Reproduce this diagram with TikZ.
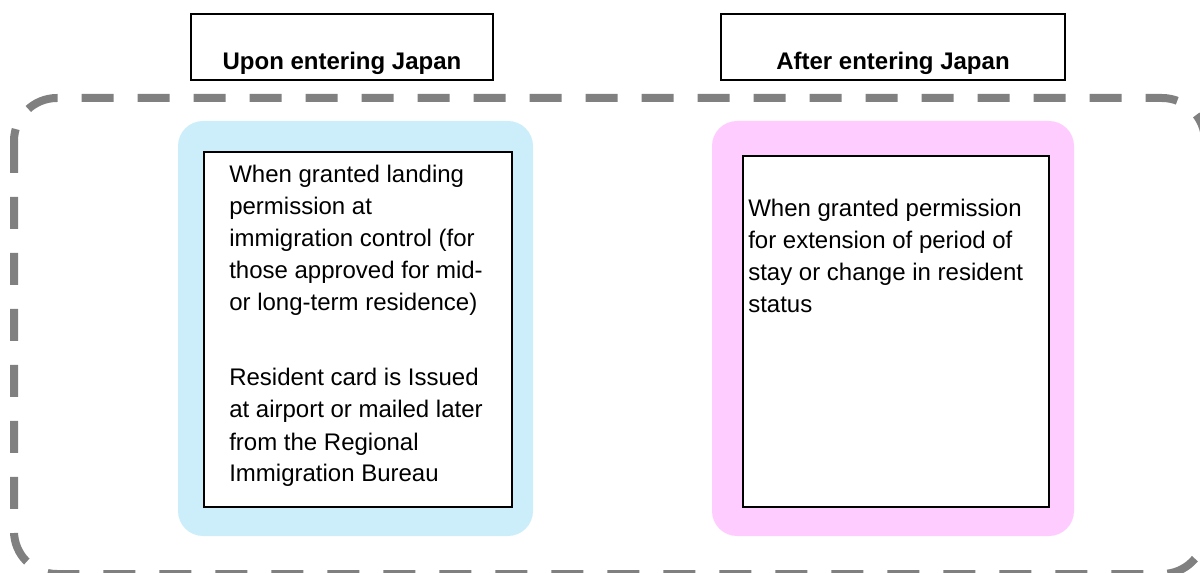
\documentclass[tikz,border=0pt]{standalone}
\usepackage{fontspec}
\setmainfont{Liberation Sans}
\definecolor{framegray}{RGB}{128,128,128}
\definecolor{cardblue}{RGB}{204,238,250}
\definecolor{cardpink}{RGB}{255,204,255}
\begin{document}
\begin{tikzpicture}[x=0.75pt,y=-0.75pt,
  hdrbox/.style={draw=black, line width=1.5pt, fill=white, minimum height=49.5pt, inner sep=0pt},
  hdrtext/.style={font=\fontsize{18}{24}\selectfont\bfseries, anchor=base, inner sep=0pt},
  panel/.style={rounded corners=18.75pt, inner sep=0pt, minimum height=311.25pt},
  innerbox/.style={draw=black, line width=1.5pt, fill=white, inner sep=0pt},
  bodytext/.style={font=\fontsize{18}{24}\selectfont, anchor=base west, align=left, inner sep=0pt},
  frame/.style={draw=framegray, line width=6pt, dash pattern=on 24pt off 18pt, rounded corners=32.25pt}
]
\useasboundingbox (0,0) rectangle (1200,573);
% dashed frame
\draw[frame] (14,98) rectangle (1205,574);
% headers
\node[hdrbox, minimum width=226.5pt] (hdrA) at (342,47) {};
\node[hdrtext] (hdrAtext) at (342,70) {Upon entering Japan};
\node[hdrbox, minimum width=258pt] (hdrB) at (893,47) {};
\node[hdrtext] (hdrBtext) at (893,70) {After entering Japan};
% panels
\node[panel, fill=cardblue, minimum width=266.25pt] (panelA) at (355.5,328.5) {};
\node[panel, fill=cardpink, minimum width=271.5pt] (panelB) at (893,328.5) {};
% inner boxes
\node[innerbox, minimum width=231pt, minimum height=266.25pt] (boxA) at (358,329.5) {};
\node[innerbox, minimum width=229.5pt, minimum height=263.25pt] (boxB) at (896,331.5) {};
% texts (anchor = baseline of the last line)
\node[bodytext] (textA1) at (229,311) {When granted landing\\permission at\\immigration control (for\\those approved for mid-\\or long-term residence)};
\node[bodytext] (textA2) at (229,482) {Resident card is Issued\\at airport or mailed later\\from the Regional\\Immigration Bureau};
\node[bodytext] (textB) at (748,313) {When granted permission\\for extension of period of\\stay or change in resident\\status};
\end{tikzpicture}
\end{document}
